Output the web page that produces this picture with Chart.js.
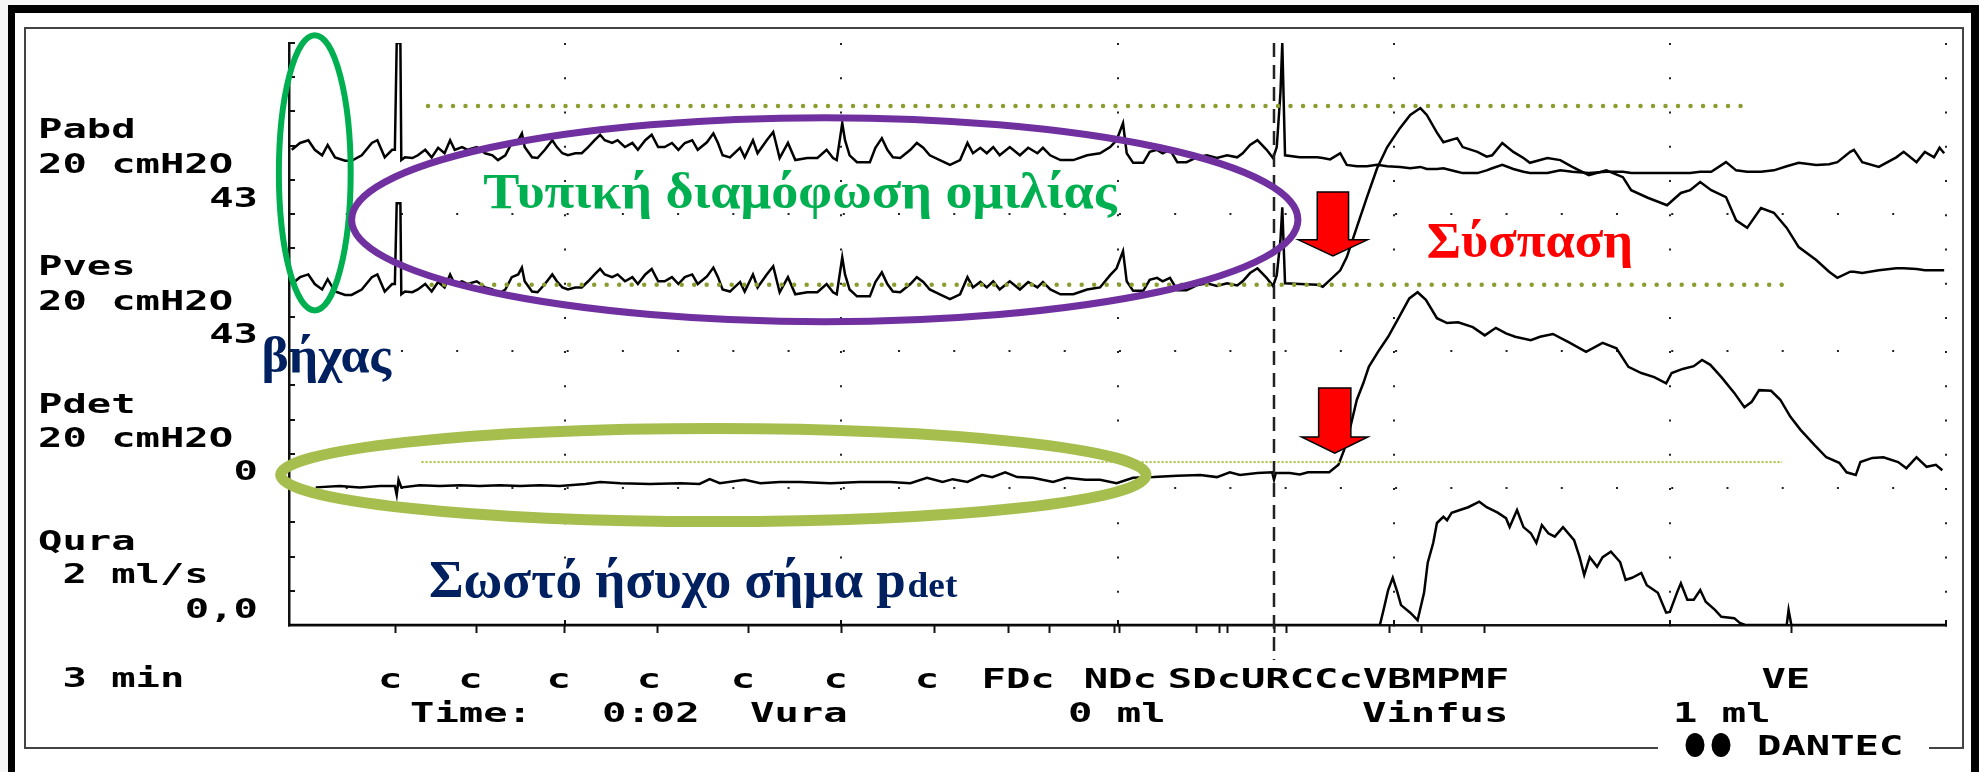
<!DOCTYPE html>
<html>
<head>
<meta charset="utf-8">
<title>Urodynamic trace - cough and speech</title>
<script src="https://cdn.jsdelivr.net/npm/chart.js@4.4.1/dist/chart.umd.min.js"></script>
<style>
  html, body { margin: 0; padding: 0; background: #fff; }
  #trace { display: block; }
</style>
</head>
<body>
<canvas id="trace" width="1979" height="772"></canvas>
<script>
// Time in s (3 min screen), pressures in cmH2O, flow in ml/s
const tPress = [0.3,1.2,2.1,2.8,3.6,4.2,5.0,6.1,6.8,7.9,9.0,9.6,10.4,11.2,11.5,11.7,12.1,12.2,12.6,13.4,
  14.0,14.8,15.5,16.2,16.9,17.5,18.0,18.8,19.4,20.4,21.3,22.1,22.7,23.5,24.2,24.9,25.3,25.6,26.4,27.0,
  27.8,28.6,29.1,29.7,30.3,31.1,31.8,32.5,33.2,33.8,34.3,35.1,35.7,36.5,37.3,37.9,38.7,39.4,40.1,40.8,
  41.6,42.3,43.0,43.8,44.4,45.4,46.1,46.6,47.1,47.9,49.0,49.5,50.4,50.9,51.9,52.6,53.3,54.2,55.0,56.3,
  57.4,58.4,59.1,59.5,60.1,60.4,60.9,61.7,63.1,63.7,64.4,65.0,65.6,66.4,67.5,68.2,68.9,69.6,70.7,71.8,
  72.9,73.7,74.3,75.1,75.8,76.5,77.2,78.3,79.4,80.3,81.3,81.9,82.7,83.8,85.2,86.7,88.1,89.2,89.9,90.6,
  91.0,91.7,92.8,93.5,94.3,94.9,95.7,96.5,97.5,98.6,99.7,100.8,101.9,103.0,103.6,104.4,105.2,106.2,106.9,107.3,
  107.7,107.9,108.2,109.8,111.7,112.3,113.1,114.2,114.9,116.0,117.1,118.2,119.3,120.7,121.8,122.9,123.6,124.7,125.4,126.9,
  127.5,129.1,130.1,130.7,131.8,133.0,134.1,134.8,136.7,138.1,139.4,141.2,143.1,144.9,145.8,147.6,149.7,151.2,152.2,153.3,
  154.5,156.1,157.2,158.4,159.9,161.3,162.7,164.0,165.9,167.3,168.2,169.6,170.0,170.9,172.7,174.6,175.4,176.8,177.7,178.7,
  179.3,179.8];

const pabd = [43.4,44.4,44.8,43.4,42.6,44.1,42.3,41.8,41.8,42.6,
  44.4,44.8,42.3,43.4,43.4,59,59,41.9,42.3,42.2,
  42.6,43.4,42.3,43.7,42.9,44.8,43.4,43.8,43.4,43.8,
  42.9,42.6,41.9,42.6,44.4,44.8,45.8,43.8,42.3,42.2,
  43.4,44.8,43.8,42.9,42.6,42.9,42.9,43.8,44.8,45.6,
  44.8,44.4,44.8,43.8,44.4,43.4,44.8,45.6,43.8,43.8,
  44.4,43.4,44.4,44.8,43.4,44.5,45.8,44.4,42.6,42.3,
  43.7,42.3,44.8,42.9,44.8,46.0,42.2,44.4,41.9,42.2,
  42.2,43.4,42.2,41.9,47.3,44.8,42.6,41.6,41.6,43.7,
  45.1,43.4,42.3,42.2,43.4,44.4,43.7,42.6,41.9,41.2,
  41.9,44.4,42.9,43.7,42.9,43.8,42.6,43.8,42.6,43.7,
  42.9,43.7,42.6,41.9,41.9,42.6,42.9,43.8,44.8,47.3,
  42.9,41.5,41.5,43.1,43.4,42.9,43.4,41.6,41.6,42.3,
  42.6,42.2,42.6,42.3,42.9,44.1,44.8,43.4,42.2,43.8,
  51.7,59,42.6,42.3,42.3,42.2,42.0,42.9,41.2,41.0,
  41.0,41.2,41.0,40.9,40.7,40.9,40.6,40.6,40.7,40.2,
  40.0,40.0,40.4,40.7,41.2,40.6,40.2,40.0,40.0,40.4,
  40.2,40.0,40.2,40.2,40.0,40.0,40.0,40.0,40.0,40.2,
  40.2,41.6,40.4,40.2,40.2,40.4,41.0,41.5,41.2,41.3,
  41.6,43.1,43.4,41.6,40.9,42.3,43.1,41.6,43.1,42.3,
  43.7,42.9];

const pves = [43.8,44.8,45.2,43.8,43.0,44.5,42.7,42.2,42.2,43.0,
  44.8,45.2,42.7,43.8,43.8,55.6,55.6,42.3,42.7,42.6,
  43.0,43.8,42.7,44.1,43.3,45.2,43.8,44.2,43.8,44.2,
  43.3,43.0,42.3,43.0,44.8,45.2,46.2,44.2,42.7,42.6,
  43.8,45.2,44.2,43.3,43.0,43.3,43.3,44.2,45.2,46.0,
  45.2,44.8,45.2,44.2,44.8,43.8,45.2,46.0,44.2,44.2,
  44.8,43.8,44.8,45.2,43.8,44.9,46.2,44.8,43.0,42.7,
  44.1,42.7,45.2,43.3,45.2,46.4,42.6,44.8,42.3,42.6,
  42.6,43.8,42.6,42.3,47.7,45.2,43.0,42.0,42.0,44.1,
  45.5,43.8,42.7,42.6,43.8,44.8,44.1,43.0,42.3,41.6,
  42.3,44.8,43.3,44.1,43.3,44.2,43.0,44.2,43.0,44.1,
  43.3,44.1,43.0,42.3,42.3,43.0,43.3,45.1,46.1,48.6,
  44.2,42.8,42.8,44.4,44.7,44.2,44.7,42.9,42.9,43.6,
  43.9,43.5,43.9,43.6,44.2,45.4,46.1,44.7,43.5,45.1,
  50.2,55.0,43.9,43.8,43.7,43.4,44.4,45.8,47.7,52.1,
  56.5,60.7,63.8,66.6,68.5,69.5,68.5,65.9,64.5,65.1,
  63.8,63.1,62.4,62.6,64.4,63.1,62.2,61.5,62.2,61.9,
  60.9,59.7,60.4,59.4,57.5,56.4,55.3,57.1,57.5,58.7,
  57.5,56.5,53.1,52.0,54.9,54.2,52.0,49.2,47.3,45.6,
  44.7,45.6,45.6,45.4,45.8,46.1,46.1,46.0,45.8,45.8,
  45.8,45.8];

const tPdet = [2.9,5.5,7.7,9.9,11.5,11.7,11.9,12.2,14.2,16.4,18.6,20.7,22.9,25.1,27.3,29.4,
  32.2,33.8,36.0,39.2,42.5,44.6,45.7,46.8,49.5,51.2,53.3,55.5,58.8,62.0,65.3,67.5,
  69.3,71.0,72.1,73.7,75.3,76.4,77.8,79.1,80.8,83.0,84.5,86.5,88.1,89.9,91.7,93.9,
  96.5,99.0,100.8,102.2,103.3,105.2,106.8,107.0,107.2,108.7,109.8,110.7,113.0,114.0,114.6,115.4,
  116.0,116.7,117.3,118.3,119.4,120.6,121.7,122.6,123.5,124.7,125.8,127.0,128.6,129.9,131.1,132.2,
  133.2,134.9,135.9,137.3,139.0,140.9,142.7,144.2,145.5,146.9,148.3,149.6,150.2,151.4,152.6,153.5,
  154.4,155.6,157.0,158.1,158.9,159.7,161.0,162.0,163.1,164.2,165.7,167.0,168.4,169.2,170.2,170.7,
  172.0,173.2,174.8,175.7,176.8,177.9,178.9,179.6];

const pdet = [0.1,0.3,0.1,0.3,0.3,-1.0,1.2,0.1,0.4,0.3,0.4,0.3,0.4,0.3,0.4,0.3,
  0.6,0.9,0.7,0.6,0.7,0.6,1.3,0.7,1.2,0.7,0.9,0.9,0.7,0.9,0.9,0.7,
  1.5,0.9,1.3,0.9,1.9,1.6,2.3,1.6,1.5,0.9,1.5,1.2,1.2,0.7,1.5,1.6,
  1.8,1.9,1.6,2.3,1.9,2.2,2.3,1.2,2.2,2.2,2.0,2.3,2.3,3.4,5.5,9.5,
  12.9,15.3,17.7,19.9,22.1,25.0,27.7,28.6,27.5,24.8,24.1,24.2,23.5,22.3,23.4,22.6,
  22.1,21.6,22.1,22.5,21.3,19.9,21.2,20.4,17.7,16.8,16.2,15.3,16.8,17.4,17.8,18.7,
  18.0,16.2,13.9,11.8,12.6,14.3,14.2,12.9,10.4,8.5,6.3,4.5,3.7,2.3,1.9,3.8,
  4.4,4.5,3.8,2.9,4.5,3.1,3.4,2.6];

const tQura = [0,118.5,118.9,119.4,119.9,120.4,120.8,121.8,122.6,123.3,
  123.7,124.3,124.7,125.4,125.8,126.3,127.2,128.1,129.3,130.1,
  131.3,132.2,132.6,133.4,134.1,134.9,135.5,136.1,136.8,137.5,
  138.4,139.6,140.2,140.7,141.3,142.1,142.7,143.6,144.6,145.2,
  145.9,146.9,147.5,148.7,149.6,150.0,150.8,151.2,151.9,152.6,
  153.3,153.9,154.9,155.6,157.0,157.6,158.2,162.7,162.9,163.2,180];

const qura = [0,0,0.22,0.51,0.69,0.48,0.29,0.18,0.07,0.47,
  0.91,1.20,1.49,1.58,1.53,1.64,1.68,1.72,1.80,1.72,
  1.64,1.56,1.43,1.68,1.43,1.34,1.20,1.46,1.34,1.29,
  1.43,1.24,0.99,0.73,0.99,0.85,0.99,1.07,0.92,0.66,
  0.69,0.76,0.58,0.47,0.18,0.19,0.48,0.61,0.37,0.37,
  0.51,0.34,0.22,0.12,0.10,0.03,0,0,0.22,0,0];

// Event marks on the time axis and their codes
const eventT = [11.6,20.4,29.9,40.0,49.9,60.0,70.1,78.2,82.6,89.7,90.2,98.6,101.1,102.0,107.1,108.4,119.5,123.0,129.9,163.2];
const eventLabelT = [11.0,19.7,29.3,39.1,49.3,59.4,69.3,79.2,90.3,114.0,162.6];
const eventLabels = ['c','c','c','c','c','c','c','FDc','NDc','SDcURCCcVBMPMF','VE'];
const markerT = 107.0; // dashed cursor

// Dotted reference levels added on the slide
const refTopT = [15.1, 158.5], refTopV = [69.8, 69.8];   // Pves
const refLowT = [15.5, 162.7], refLowV = [43.7, 43.7];   // Pves
const refDetT = [14.4, 162.2], refDetV = [3.8, 3.8];     // Pdet

// Channel captions
const channelNames = ['Pabd', 'Pves', 'Pdet', 'Qura'];
const channelRanges = ['20 cmH2O', '20 cmH2O', '20 cmH2O', ' 2 ml/s'];
const channelValues = ['43', '43', '0', '0,0'];
const footerLabels = ['Time:', '0:02', 'Vura', '0 ml', 'Vinfus', '1 ml'];

// ---- layout (pixels) ----
const MONO_FONT = 'bold 27px "DejaVu Sans Mono"';
const MONO_SX = 1.5;
const captionX = 38, captionRight = 258;
const nameY = [138, 275, 413, 550], rangeY = [173, 310, 447, 583], valueY = [207, 343, 480, 618];
const footerX = [410, 602, 750, 1068, 1362, 1673];

// annotations in axis units (x: s, y: grid divisions of the 'y' axis)
const ellipses = [
  { t: 2.8, v: 13.21, rt: 3.9, rv: 4.02, color: '#00B050', width: 6 },
  { t: 58.2, v: 11.84, rt: 51.4, rv: 2.98, color: '#7030A0', width: 7 },
  { t: 46.1, v: 4.38, rt: 47.0, rv: 1.36, color: '#A6BE4D', width: 11 }
];
const arrows = [
  { t: 113.4, top: 12.65, base: 11.25, tip: 10.78, shaft: 1.7, head: 3.75 },
  { t: 113.6, top: 6.92, base: 5.49, tip: 5.02, shaft: 1.75, head: 3.6 }
];
const notes = [
  { text: 'Τυπική διαμόφωση ομιλίας', t0: 21.1, t1: 89.9, v: 12.18, font: 'bold 50px "Liberation Serif"', color: '#00B050' },
  { text: 'Σύσπαση', t0: 123.6, t1: 146.0, v: 10.75, font: 'bold 51px "Liberation Serif"', color: '#FF0000' },
  { text: 'βήχας', t0: -3.0, t1: 11.1, v: 7.39, font: 'bold 50px "Liberation Serif"', color: '#002060' },
  { text: 'Σωστό ήσυχο σήμα p', t0: 15.2, t1: 67.0, v: 0.82, font: 'bold 53px "Liberation Serif"', color: '#002060' },
  { text: 'det', t0: 67.2, t1: 72.6, v: 0.82, font: 'bold 36px "Liberation Serif"', color: '#002060' }
];

const toPoints = (ts, vs) => ts.map((t, i) => ({ x: t, y: vs[i] }));

function mono(ctx, text, x, y, align) {
  ctx.save();
  ctx.font = MONO_FONT;
  const w = ctx.measureText(text).width * MONO_SX;
  let left = x;
  if (align === 'right') left = x - w;
  if (align === 'center') left = x - w / 2;
  ctx.translate(left, y);
  ctx.scale(MONO_SX, 1);
  ctx.textAlign = 'left';
  ctx.textBaseline = 'alphabetic';
  ctx.fillStyle = '#000';
  ctx.fillText(text, 0, 0);
  ctx.restore();
}

function fitText(ctx, text, x0, x1, y, font, color) {
  ctx.save();
  ctx.font = font;
  const w = ctx.measureText(text).width;
  ctx.translate(x0, y);
  ctx.scale((x1 - x0) / w, 1);
  ctx.textAlign = 'left';
  ctx.textBaseline = 'alphabetic';
  ctx.fillStyle = color;
  ctx.fillText(text, 0, 0);
  ctx.restore();
}

const framePlugin = {
  id: 'frame',
  beforeDraw(chart) {
    const ctx = chart.ctx;
    ctx.save();
    ctx.fillStyle = '#f6f6f6';
    ctx.fillRect(0, 0, chart.width, chart.height);
    ctx.fillStyle = '#fff';
    ctx.fillRect(15, 13, 1956, 772);
    // thick outer border
    ctx.fillStyle = '#000';
    ctx.fillRect(8, 5, 7, 767);
    ctx.fillRect(8, 5, 1971, 8);
    ctx.fillRect(1971, 5, 8, 767);
    // thin device frame, broken by the logo
    ctx.strokeStyle = '#444';
    ctx.lineWidth = 2;
    ctx.beginPath();
    ctx.moveTo(1658, 748); ctx.lineTo(25, 748); ctx.lineTo(25, 28);
    ctx.lineTo(1963, 28); ctx.lineTo(1963, 748); ctx.lineTo(1929, 748);
    ctx.stroke();
    ctx.restore();
  }
};

const notesPlugin = {
  id: 'notes',
  afterDraw(chart) {
    const ctx = chart.ctx;
    const xs = chart.scales.x, ys = chart.scales.y;

    // dashed cursor line
    ctx.save();
    ctx.strokeStyle = '#222';
    ctx.lineWidth = 2.5;
    ctx.setLineDash([14, 8]);
    const mx = xs.getPixelForValue(markerT);
    ctx.beginPath();
    ctx.moveTo(mx, ys.getPixelForValue(17));
    ctx.lineTo(mx, ys.getPixelForValue(-1.02));
    ctx.stroke();
    ctx.restore();

    // ellipses
    ellipses.forEach(e => {
      const cx = xs.getPixelForValue(e.t), cy = ys.getPixelForValue(e.v);
      const rx = xs.getPixelForValue(e.t + e.rt) - cx;
      const ry = cy - ys.getPixelForValue(e.v + e.rv);
      ctx.save();
      ctx.strokeStyle = e.color;
      ctx.lineWidth = e.width;
      ctx.beginPath();
      ctx.ellipse(cx, cy, rx, ry, 0, 0, Math.PI * 2);
      ctx.stroke();
      ctx.restore();
    });

    // red arrows
    arrows.forEach(a => {
      const cx = xs.getPixelForValue(a.t);
      const sw = cx - xs.getPixelForValue(a.t - a.shaft);
      const hw = cx - xs.getPixelForValue(a.t - a.head);
      const top = ys.getPixelForValue(a.top), base = ys.getPixelForValue(a.base), tip = ys.getPixelForValue(a.tip);
      ctx.save();
      ctx.beginPath();
      ctx.moveTo(cx - sw, top); ctx.lineTo(cx + sw, top); ctx.lineTo(cx + sw, base);
      ctx.lineTo(cx + hw, base); ctx.lineTo(cx, tip); ctx.lineTo(cx - hw, base);
      ctx.lineTo(cx - sw, base); ctx.closePath();
      ctx.fillStyle = '#FF0000';
      ctx.fill();
      ctx.strokeStyle = '#000';
      ctx.lineWidth = 1.5;
      ctx.stroke();
      ctx.restore();
    });

    // slide captions
    notes.forEach(n => {
      fitText(ctx, n.text, xs.getPixelForValue(n.t0), xs.getPixelForValue(n.t1), ys.getPixelForValue(n.v), n.font, n.color);
    });

    // channel captions
    channelNames.forEach((name, i) => {
      mono(ctx, name, captionX, nameY[i]);
      mono(ctx, channelRanges[i], captionX, rangeY[i]);
      mono(ctx, channelValues[i], captionRight, valueY[i], 'right');
    });

    // event codes and footer
    mono(ctx, ' 3 min', captionX, 687);
    eventLabels.forEach((lab, i) => mono(ctx, lab, xs.getPixelForValue(eventLabelT[i]), 688, 'center'));
    footerLabels.forEach((lab, i) => mono(ctx, lab, footerX[i], 722));

    // logo
    ctx.save();
    ctx.fillStyle = '#000';
    [1695, 1721].forEach(x => {
      ctx.beginPath();
      ctx.ellipse(x, 745, 9.5, 12, 0, 0, Math.PI * 2);
      ctx.fill();
    });
    ctx.restore();
    mono(ctx, 'DANTEC', 1757, 755);
  }
};

const trace = { borderColor: '#000', borderWidth: 2.5, pointRadius: 0, tension: 0, fill: false, order: 1 };
const dots = { borderColor: '#8C9C2E', borderWidth: 4.5, borderDash: [0, 12.5], borderCapStyle: 'round', pointRadius: 0, fill: false, order: 0 };

new Chart(document.getElementById('trace'), {
  type: 'line',
  data: {
    datasets: [
      { label: 'ref top', data: toPoints(refTopT, refTopV), yAxisID: 'yPves', ...dots },
      { label: 'ref low', data: toPoints(refLowT, refLowV), yAxisID: 'yPves', ...dots },
      { label: 'ref det', data: toPoints(refDetT, refDetV), yAxisID: 'yPdet', ...dots, borderColor: '#A5C23A', borderWidth: 2, borderDash: [2, 2], borderCapStyle: 'butt' },
      { label: 'Pabd', data: toPoints(tPress, pabd), yAxisID: 'yPabd', ...trace },
      { label: 'Pves', data: toPoints(tPress, pves), yAxisID: 'yPves', ...trace },
      { label: 'Pdet', data: toPoints(tPdet, pdet), yAxisID: 'yPdet', ...trace },
      { label: 'Qura', data: toPoints(tQura, qura), yAxisID: 'yQura', ...trace }
    ]
  },
  options: {
    responsive: false,
    animation: false,
    devicePixelRatio: 1,
    layout: { padding: { left: 289, right: 33, top: 43, bottom: 147 } },
    plugins: { legend: { display: false }, tooltip: { enabled: false } },
    scales: {
      x: {
        type: 'linear', position: 'bottom', min: 0, max: 180,
        ticks: { stepSize: 30, display: false },
        grid: {
          color: c => (c.tick && c.tick.value > 0) ? '#222' : 'rgba(0,0,0,0)',
          lineWidth: 2, drawTicks: true, tickLength: -5, tickColor: '#111', tickWidth: 2
        },
        border: { display: true, color: '#111', width: 2.5, dash: [2, 32.235] },
        afterFit: s => { s.height = 0; }
      },
      xe: {
        type: 'linear', position: 'bottom', min: 0, max: 180,
        afterBuildTicks: s => { s.ticks = eventT.map(v => ({ value: v })); },
        ticks: { display: false },
        grid: { drawOnChartArea: false, drawTicks: true, tickLength: 8, tickColor: '#111', tickWidth: 2 },
        border: { display: false },
        afterFit: s => { s.height = 0; }
      },
      y: {
        type: 'linear', position: 'left', min: 0, max: 17,
        ticks: { stepSize: 1, display: false },
        grid: {
          color: c => (c.tick && c.tick.value % 4 === 0 && c.tick.value > 0 && c.tick.value < 16) ? '#222' : 'rgba(0,0,0,0)',
          lineWidth: 2, drawTicks: true, tickLength: -6, tickColor: '#111', tickWidth: 2
        },
        border: { display: true, color: '#111', width: 2.5, dash: [2, 53.23] },
        afterFit: s => { s.width = 0; }
      },
      yPabd: { display: false, min: -26, max: 59 },
      yPves: { display: false, min: -6, max: 79 },
      yPdet: { display: false, min: -20, max: 65 },
      yQura: { display: false, min: 0, max: 8.5 }
    }
  },
  plugins: [framePlugin, notesPlugin]
});
</script>
</body>
</html>
